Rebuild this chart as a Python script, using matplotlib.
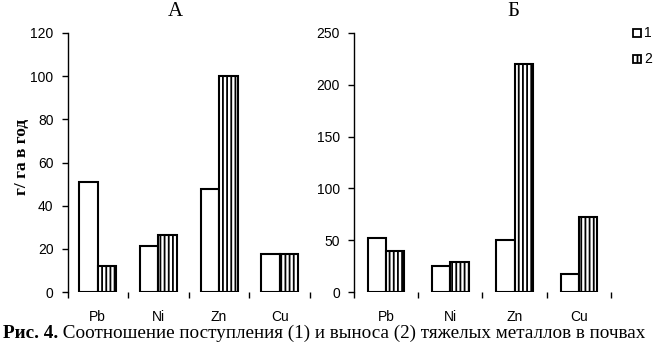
import matplotlib
matplotlib.use("Agg")
import matplotlib.pyplot as plt
from matplotlib.patches import Rectangle
from matplotlib.text import Annotation
import numpy as np

categories = ["Pb", "Ni", "Zn", "Cu"]
a_series1 = [51, 21.5, 47.5, 17.5]
a_series2 = [12, 26.5, 100, 17.5]
b_series1 = [52, 25, 50, 17]
b_series2 = [40, 29, 220, 72]
legend_labels = ["1", "2"]
a_yticks = [0, 20, 40, 60, 80, 100, 120]
b_yticks = [0, 50, 100, 150, 200, 250]

plt.rcParams['hatch.linewidth'] = 1.3
SANS = ['Liberation Sans', 'DejaVu Sans']
SERIF = ['Liberation Serif', 'DejaVu Serif']

fig = plt.figure(figsize=(6.55, 3.45), dpi=100)
W, H = 655, 345

def make_axes(x0, x1, ytop, ybot):
    return fig.add_axes([x0 / W, 1 - ybot / H, (x1 - x0) / W, (ybot - ytop) / H])

axA = make_axes(67.5, 310, 33, 292)
axB = make_axes(353.7, 611, 33, 292)

def draw(ax, s1, s2, yticks, width):
    x = np.arange(len(categories))
    ax.bar(x - width / 2, s1, width, color='white', edgecolor='black', linewidth=1.5)
    ax.bar(x + width / 2, s2, width, color='white', edgecolor='black', linewidth=1.5, hatch='||||')
    ax.set_xlim(-0.5, len(categories) - 0.5)
    ax.set_ylim(yticks[0], yticks[-1])
    ax.set_yticks(yticks)
    ax.set_yticklabels([str(v) for v in yticks], fontfamily=SANS, fontsize=10)
    ax.set_xticks(np.arange(len(categories) + 1) - 0.5)
    ax.set_xticklabels([])
    ax.set_xticks(x, minor=True)
    ax.set_xticklabels(categories, minor=True, fontfamily=SANS, fontsize=10)
    ax.tick_params(axis='x', which='minor', length=0, pad=13)
    ax.tick_params(axis='x', which='major', length=4, width=1, direction='out')
    ax.tick_params(axis='y', length=4, width=1, direction='out', pad=6)
    for s in ['top', 'right', 'bottom']:
        ax.spines[s].set_visible(False)
    ax.spines['left'].set_linewidth(1)

draw(axA, a_series1, a_series2, a_yticks, 0.305)
draw(axB, b_series1, b_series2, b_yticks, 0.285)

fig.text(175 / W, 1 - 12 / H, "А", fontfamily=SERIF, fontsize=15, ha='center', va='center')
fig.text(513 / W, 1 - 12 / H, "Б", fontfamily=SERIF, fontsize=15, ha='center', va='center')
fig.text(22 / W, 1 - 157 / H, "г/ га в год", fontfamily=SERIF, fontsize=12.5, fontweight='bold',
         rotation=90, ha='center', va='center')

# legend drawn manually
for i, (lab, hatch) in enumerate(zip(legend_labels, [None, '||'])):
    yc = 33 + i * 26
    fig.patches.append(Rectangle(((633) / W, 1 - (yc + 4) / H), 8 / W, 8 / H,
                                 transform=fig.transFigure, facecolor='white', edgecolor='black',
                                 linewidth=1.3, hatch=hatch))
    fig.text(644 / W, 1 - yc / H, lab, fontfamily=SANS, fontsize=10, ha='left', va='center')

t = fig.text(3 / W, 1 - 333 / H, "Рис. 4.", fontfamily=SERIF, fontsize=13.8, fontweight='bold',
             ha='left', va='center')
fig.add_artist(Annotation(" Соотношение поступления (1) и выноса (2) тяжелых металлов в почвах",
                          xy=(1, 0), xycoords=t, va='bottom', ha='left',
                          fontfamily=SERIF, fontsize=13.8))

fig.savefig("out.png", dpi=100)
